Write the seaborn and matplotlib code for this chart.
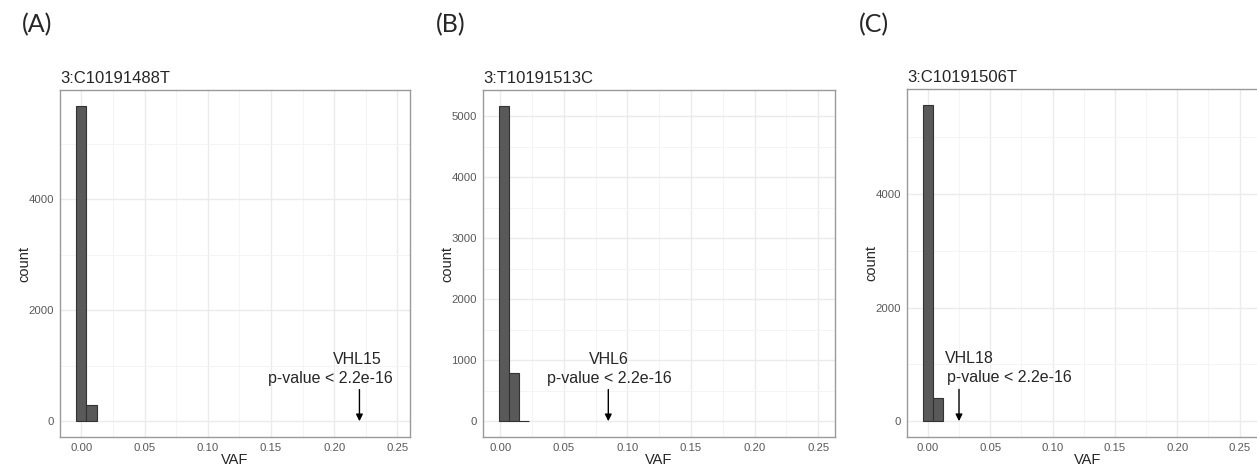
import matplotlib
matplotlib.use("Agg")
import matplotlib.pyplot as plt
import seaborn as sns
import pandas as pd
from matplotlib.ticker import MultipleLocator

# Figure settings
W, H = 1257, 469
DPI = 100

# Panel data (histogram bins)
panels = ["(A)", "(B)", "(C)"]
titles = ["3:C10191488T", "3:T10191513C", "3:C10191506T"]
bin_edges = [
    [-0.004, 0.004, 0.012],
    [-0.001, 0.007, 0.015, 0.023],
    [-0.004, 0.004, 0.012],
]
bin_counts = [
    [5680, 285],
    [5175, 795, 8],
    [5571, 400],
]
sample_names = ["VHL15", "VHL6", "VHL18"]
sample_vaf = [0.22, 0.085, 0.025]
pvalue_text = "p-value < 2.2e-16"

# Layout (pixels) and axis ranges
axes_px = [(60, 437, 350, 347), (483, 437, 352, 347), (907, 437, 362, 348)]
xlims = [(-0.0169, 0.2600), (-0.0135, 0.2632), (-0.0167, 0.2736)]
ytick_step = [2000, 1000, 2000]
letter_x = [22, 436, 859]
# annotation layout: (name x, name y, pvalue x, pvalue y, ha, arrow tail y)
annot = [
    (0.218, 1110, 0.197, 770, "center", 570),
    (0.0855, 1010, 0.0855, 700, "center", 520),
    (0.0135, 1100, 0.0155, 766, "left", 560),
]

sns.set_style("white")
plt.rcParams["font.family"] = ["Liberation Sans", "DejaVu Sans"]

fig = plt.figure(figsize=(W / DPI, H / DPI), dpi=DPI)

for i in range(3):
    left, bottom, w, h = axes_px[i]
    ax = fig.add_axes([left / W, (H - bottom) / H, w / W, h / H])

    edges = list(bin_edges[i])
    mids = [(a + b) / 2 for a, b in zip(edges[:-1], edges[1:])]
    df = pd.DataFrame({"VAF": mids, "n": bin_counts[i]})
    sns.histplot(
        data=df,
        x="VAF",
        weights="n",
        bins=edges,
        ax=ax,
        color="#595959",
        edgecolor="#333333",
        linewidth=0.8,
        alpha=1,
    )

    ymax = max(bin_counts[i])
    ax.set_ylim(-0.05 * ymax, 1.05 * ymax)
    ax.set_xlim(*xlims[i])

    ax.xaxis.set_major_locator(MultipleLocator(0.05))
    ax.xaxis.set_minor_locator(MultipleLocator(0.025))
    ax.yaxis.set_major_locator(MultipleLocator(ytick_step[i]))
    ax.yaxis.set_minor_locator(MultipleLocator(ytick_step[i] / 2))
    ax.xaxis.set_major_formatter(plt.FuncFormatter(lambda v, p: f"{v:.2f}"))
    ax.yaxis.set_major_formatter(plt.FuncFormatter(lambda v, p: f"{v:.0f}"))

    ax.set_axisbelow(True)
    ax.grid(which="major", color="#ebebeb", linewidth=1.0)
    ax.grid(which="minor", color="#f3f3f3", linewidth=0.6)
    for s in ax.spines.values():
        s.set_color("#9a9a9a")
        s.set_linewidth(1.0)

    ax.tick_params(which="major", length=2.5, width=0.8, color="#555555",
                   labelsize=8.2, labelcolor="#595959", pad=2)
    ax.tick_params(which="minor", length=0)

    ax.set_xlabel("VAF", fontsize=10.5, labelpad=0)
    ax.set_ylabel("count", fontsize=10.5, labelpad=-2)
    ax.set_title(titles[i], loc="left", fontsize=12, pad=5)

    # arrow and text for the sample
    nx, ny, px, py, ha, tail = annot[i]
    x0 = sample_vaf[i]
    ax.annotate(
        "",
        xy=(x0, 0),
        xytext=(x0, tail),
        arrowprops=dict(arrowstyle="-|>", color="black", lw=1.0,
                        mutation_scale=10, shrinkA=0, shrinkB=0),
    )
    ax.text(nx, ny, sample_names[i], ha=ha, va="center", fontsize=11.5)
    ax.text(px, py, pvalue_text, ha=ha, va="center", fontsize=11.5)

    fig.text(letter_x[i] / W, 1 - 25 / H, panels[i], fontsize=18,
             family=["Lato", "DejaVu Sans"], ha="left", va="center")

fig.savefig("out.png", dpi=DPI, facecolor="white")
